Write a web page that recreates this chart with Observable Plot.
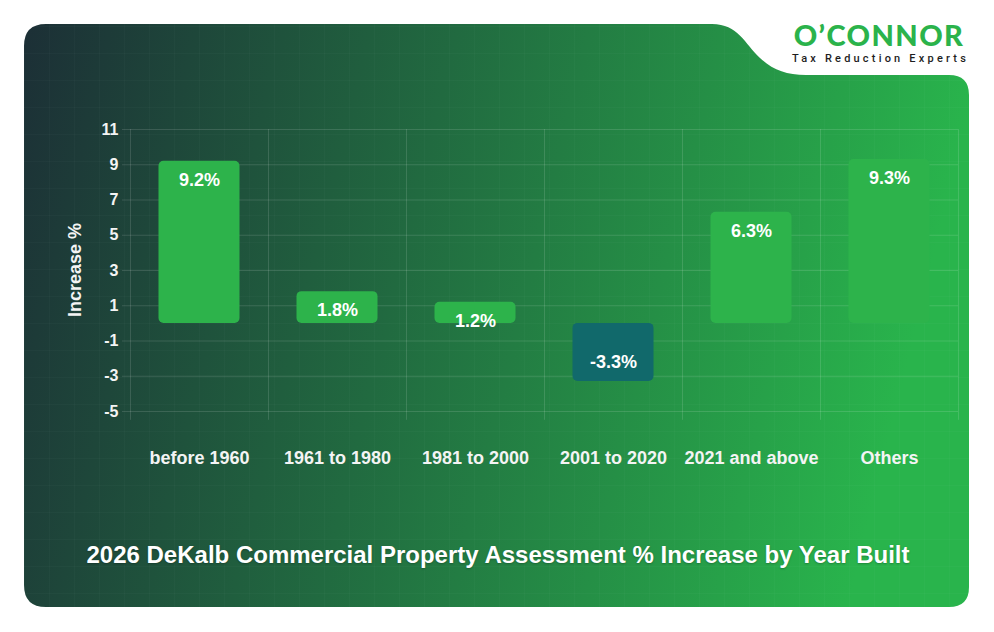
<!DOCTYPE html>
<html>
<head>
<meta charset="utf-8">
<script src="https://cdn.jsdelivr.net/npm/d3@7"></script>
<script src="https://cdn.jsdelivr.net/npm/@observablehq/plot@0.6"></script>
<style>
  html, body { margin: 0; padding: 0; background: #ffffff; }
  body { width: 994px; height: 632px; position: relative; overflow: hidden; font-family: "Liberation Sans", Arial, Helvetica, sans-serif; }
  #bg { position: absolute; left: 0; top: 0; }
  #chart { position: absolute; left: 0; top: 0; }
  #ylabel { position: absolute; left: 75px; top: 270px; transform: translate(-50%, -50%) rotate(-90deg); color: #f4f4f4; font-weight: bold; font-size: 18px; white-space: nowrap; }
  #title { position: absolute; left: 0; top: 541px; width: 996px; text-align: center; color: #ffffff; font-weight: bold; font-size: 24px; line-height: 28px; text-shadow: 0 1px 2px rgba(0,0,0,0.25); }
  #logo1 { position: absolute; left: 786px; top: 20px; width: 186px; height: 30px; text-align: center; color: #2bb34b; font-family: Lato, "Open Sans", sans-serif; font-weight: 900; font-size: 29px; line-height: 30px; letter-spacing: 1.4px; }
  #logo2 { position: absolute; left: 786px; top: 53px; width: 186px; height: 11px; text-align: center; color: #1e1e1e; font-family: Roboto, "Liberation Sans", sans-serif; font-weight: 500; font-size: 11px; line-height: 11px; letter-spacing: 3.2px; text-indent: 3px; }
</style>
</head>
<body>
<svg id="bg" width="994" height="632">
  <defs>
    <linearGradient id="g" x1="0" y1="0" x2="1" y2="0.15">
      <stop offset="0" stop-color="#1c2f36"/>
      <stop offset="0.45" stop-color="#216a40"/>
      <stop offset="1" stop-color="#29b44c"/>
    </linearGradient>
    <pattern id="p" width="25" height="27" patternUnits="userSpaceOnUse">
      <path d="M 25 0 L 25 27 M 0 27 L 25 27" stroke="rgba(255,255,255,0.035)" stroke-width="1" fill="none"/>
    </pattern>
  </defs>
  <path d="M 46 24 L 712 24 C 738 24, 745 44, 760 58 C 773 70, 786 75, 806 75 L 949 75 Q 969 75 969 95 L 969 587 Q 969 607 949 607 L 46 607 Q 24 607 24 585 L 24 46 Q 24 24 46 24 Z" fill="url(#g)"/>
  <path d="M 46 24 L 712 24 C 738 24, 745 44, 760 58 C 773 70, 786 75, 806 75 L 949 75 Q 969 75 969 95 L 969 587 Q 969 607 949 607 L 46 607 Q 24 607 24 585 L 24 46 Q 24 24 46 24 Z" fill="url(#p)"/>
</svg>
<div id="chart"></div>
<div id="ylabel">Increase %</div>
<div id="title">2026 DeKalb Commercial Property Assessment % Increase by Year Built</div>
<div id="logo1">O’CONNOR</div>
<div id="logo2">Tax Reduction Experts</div>
<script>
const categories = ["before 1960", "1961 to 1980", "1981 to 2000", "2001 to 2020", "2021 and above", "Others"];
const values = [9.2, 1.8, 1.2, -3.3, 6.3, 9.3];
const yTicks = [-5, -3, -1, 1, 3, 5, 7, 9, 11];

const data = categories.map((c, i) => ({category: c, value: values[i]}));
const W = 994, H = 632, mL = 130, mR = 36, mT = 129, mB = 221;
const bw = (W - mL - mR) / categories.length;
const gridColor = "rgba(255,255,255,0.13)";
const posColor = "#2db34b";
const negColor = "#11696b";
const font = "'Liberation Sans', Arial, Helvetica, sans-serif";

const chart = Plot.plot({
  width: W, height: H,
  marginLeft: mL, marginRight: mR, marginTop: mT, marginBottom: mB,
  style: {background: "transparent", fontFamily: font, overflow: "visible"},
  x: {domain: categories, padding: 0, axis: null},
  y: {domain: [-5, 11], axis: null},
  marks: [
    Plot.gridY(yTicks, {stroke: gridColor, strokeOpacity: 1}),
    Plot.ruleX(categories, {x: d => d, dx: -bw / 2, y1: -5.5, y2: 11, stroke: gridColor}),
    Plot.ruleX(categories.slice(-1), {x: d => d, dx: bw / 2, y1: -5.5, y2: 11, stroke: gridColor}),
    Plot.axisY(yTicks, {label: null, tickSize: 8, tickPadding: 4, stroke: gridColor, fill: "#f4f4f4", fontSize: 16, fontWeight: "bold", tickFormat: d => String(d)}),
    Plot.axisX({label: null, tickSize: 0, tickPadding: 40, fill: "#f4f4f4", fontSize: 18, fontWeight: "bold"}),
    Plot.barY(data, {x: "category", y: "value", fill: d => d.value < 0 ? negColor : posColor, insetLeft: 28.5, insetRight: 28.5, rx: 5}),
    Plot.text(data.filter(d => d.value >= 0), {x: "category", y: "value", text: d => d.value.toFixed(1) + "%", dy: 19, fill: "#ffffff", fontSize: 18, fontWeight: "bold"}),
    Plot.text(data.filter(d => d.value < 0), {x: "category", y: "value", text: d => d.value.toFixed(1) + "%", dy: -19, fill: "#ffffff", fontSize: 18, fontWeight: "bold"})
  ]
});
document.getElementById("chart").appendChild(chart);
</script>
</body>
</html>
